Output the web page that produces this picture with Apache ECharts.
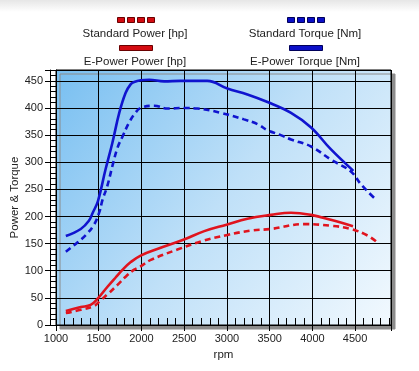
<!DOCTYPE html>
<html><head><meta charset="utf-8">
<script src="https://cdn.jsdelivr.net/npm/echarts@6/dist/echarts.min.js"></script>
<style>
html,body{margin:0;padding:0;background:linear-gradient(#e6e6e6 0px,#ffffff 12px,#ffffff 100%);}
#c{width:419px;height:371px;}
</style></head>
<body><div id="c"></div>
<script>
// ---- data ----
const seriesNames = ['Standard Power [hp]', 'Standard Torque [Nm]', 'E-Power Power [hp]', 'E-Power Torque [Nm]'];

const epTorqueRpm = [1115, 1290, 1385, 1430, 1490, 1580, 1660, 1740, 1815, 1875, 1915, 1990, 2090, 2265, 2460, 2770, 3005, 3240, 3475, 3750, 3985, 4215, 4480];
const epTorqueVal = [164, 177, 192, 207, 228, 287, 336, 391, 428, 444, 448, 451, 452, 449, 450, 450, 436, 425, 411, 391, 364, 324, 284];

const stdTorqueRpm = [1115, 1250, 1350, 1445, 1505, 1545, 1600, 1660, 1720, 1780, 1855, 1915, 1990, 2150, 2305, 2500, 2655, 2930, 3200, 3360, 3475, 3630, 3750, 3985, 4215, 4450, 4570, 4725];
const stdTorqueVal = [135, 152, 166, 185, 207, 231, 256, 293, 327, 348, 373, 388, 400, 404, 399, 400, 399, 391, 379, 370, 359, 350, 342, 329, 305, 283, 259, 234];

const epPowerRpm = [1115, 1290, 1405, 1490, 1600, 1700, 1780, 1875, 1990, 2185, 2490, 2735, 2995, 3240, 3515, 3750, 3985, 4215, 4475];
const epPowerVal = [26, 33, 37, 49, 70, 88, 102, 116, 128, 140, 157, 173, 185, 196, 203, 207, 203, 194, 182];

const stdPowerRpm = [1115, 1290, 1445, 1525, 1620, 1720, 1815, 1915, 1990, 2110, 2420, 2695, 3005, 3280, 3515, 3905, 4215, 4450, 4645, 4745];
const stdPowerVal = [22, 28, 35, 46, 59, 74, 89, 102, 108, 120, 139, 154, 166, 174, 177, 186, 183, 177, 165, 154];

const xMin = 1000, xMax = 4920, xStep = 500;
const yMin = 0, yMax = 470, yStep = 50;

// ---- chart ----
const RED = '#e0141e', BLUE = '#1014cf';
const pair = (xs, ys) => xs.map((x, i) => [x, ys[i]]);
const chart = echarts.init(document.getElementById('c'), null, {renderer: 'canvas'});
const FONT = 'Liberation Sans, Arial, sans-serif';

const dashIcon = 'path://M0,0H7V5H0Z M10,0H17V5H10Z M20,0H27V5H20Z M30,0H37V5H30Z';
const solidIcon = 'path://M0,0H33V5H0Z';

function legendFor(name, left, top, icon, color, border, w) {
  return {
    data: [{name: name, icon: icon, itemStyle: {color: color, borderColor: border, borderWidth: 1}}],
    left: left, top: top, itemWidth: w, itemHeight: 5, selectedMode: false,
    formatter: () => '', itemGap: 0, padding: 0
  };
}

const option = {
  animation: false,
  grid: {
    left: 56, top: 70, right: 28, bottom: 46, show: true,
    outerBoundsMode: 'none', containLabel: false,
    backgroundColor: new echarts.graphic.LinearGradient(0, 0, 1, 1, [
      {offset: 0, color: '#78bff1'},
      {offset: 0.5, color: '#bfe0f8'},
      {offset: 1, color: '#f2f9fe'}
    ]),
    borderColor: '#000', borderWidth: 1,
    shadowColor: '#8c8c8c', shadowOffsetX: 4, shadowOffsetY: 4, shadowBlur: 0
  },
  legend: [
    legendFor(seriesNames[0], 117, 17, dashIcon, '#d40c12', '#6a0000', 37),
    legendFor(seriesNames[2], 119, 45, solidIcon, '#d40c12', '#6a0000', 33),
    legendFor(seriesNames[1], 287, 17, dashIcon, '#0c10c8', '#00005a', 37),
    legendFor(seriesNames[3], 289, 45, solidIcon, '#0c10c8', '#00005a', 33)
  ],
  graphic: [
    {type: 'text', x: 135, y: 34, style: {text: seriesNames[0], font: '11.5px ' + FONT, fill: '#222', align: 'center', verticalAlign: 'middle'}},
    {type: 'text', x: 135, y: 62, style: {text: seriesNames[2], font: '11.5px ' + FONT, fill: '#222', align: 'center', verticalAlign: 'middle'}},
    {type: 'text', x: 305, y: 34, style: {text: seriesNames[1], font: '11.5px ' + FONT, fill: '#222', align: 'center', verticalAlign: 'middle'}},
    {type: 'text', x: 305, y: 62, style: {text: seriesNames[3], font: '11.5px ' + FONT, fill: '#222', align: 'center', verticalAlign: 'middle'}}
  ],
  xAxis: [{
    type: 'value', min: xMin, max: xMax, interval: xStep,
    name: 'rpm', nameLocation: 'middle', nameGap: 22,
    nameTextStyle: {fontFamily: FONT, fontSize: 11.5, color: '#222'},
    axisLine: {show: true, lineStyle: {color: '#000', width: 1}},
    axisTick: {show: true, inside: true, length: 7, lineStyle: {color: '#000'}},
    minorTick: {show: true, splitNumber: 5, length: 7, lineStyle: {color: '#000', width: 1}},
    axisLabel: {margin: 8, fontFamily: FONT, fontSize: 11, color: '#222',
      formatter: v => (v % xStep === 0 ? String(v) : '')},
    splitLine: {show: true, lineStyle: {color: '#000', width: 1}}
  }, {
    type: 'value', min: xMin, max: xMax, interval: xStep, position: 'bottom', gridIndex: 0,
    axisLine: {show: false}, axisLabel: {show: false}, splitLine: {show: false},
    axisTick: {show: true, inside: false, length: 6, lineStyle: {color: '#000'}}
  }],
  yAxis: [{
    type: 'value', min: yMin, max: yMax, interval: yStep,
    name: 'Power & Torque', nameLocation: 'middle', nameGap: 35, nameRotate: 90,
    nameMoveOverlap: false,
    nameTextStyle: {fontFamily: FONT, fontSize: 11.5, color: '#222'},
    axisLine: {show: true, lineStyle: {color: '#000', width: 1}},
    axisTick: {show: true, length: 11, lineStyle: {color: '#000'}},
    minorTick: {show: true, splitNumber: 5, length: 6, lineStyle: {color: '#000', width: 1}},
    axisLabel: {margin: 13, fontFamily: FONT, fontSize: 11, color: '#222',
      formatter: v => (v % yStep === 0 ? String(v) : '')},
    splitLine: {show: true, lineStyle: {color: '#000', width: 1}}
  }, {
    type: 'value', min: yMin, max: yMax, position: 'left', offset: 6,
    axisLine: {show: true, lineStyle: {color: '#000', width: 1}},
    axisTick: {show: false}, axisLabel: {show: false}, splitLine: {show: false}
  }],
  series: [
    {name: seriesNames[0], type: 'line', data: pair(stdPowerRpm, stdPowerVal), smooth: 0.4, showSymbol: false,
      lineStyle: {color: RED, width: 2.6, type: [6, 4]}, itemStyle: {color: RED}, z: 3},
    {name: seriesNames[1], type: 'line', data: pair(stdTorqueRpm, stdTorqueVal), smooth: 0.4, showSymbol: false,
      lineStyle: {color: BLUE, width: 2.6, type: [6, 4]}, itemStyle: {color: BLUE}, z: 3},
    {name: seriesNames[2], type: 'line', data: pair(epPowerRpm, epPowerVal), smooth: 0.4, showSymbol: false,
      lineStyle: {color: RED, width: 2.6}, itemStyle: {color: RED}, z: 4},
    {name: seriesNames[3], type: 'line', data: pair(epTorqueRpm, epTorqueVal), smooth: 0.4, showSymbol: false,
      lineStyle: {color: BLUE, width: 2.6}, itemStyle: {color: BLUE}, z: 4}
  ]
};
chart.setOption(option);
</script>
</body></html>
